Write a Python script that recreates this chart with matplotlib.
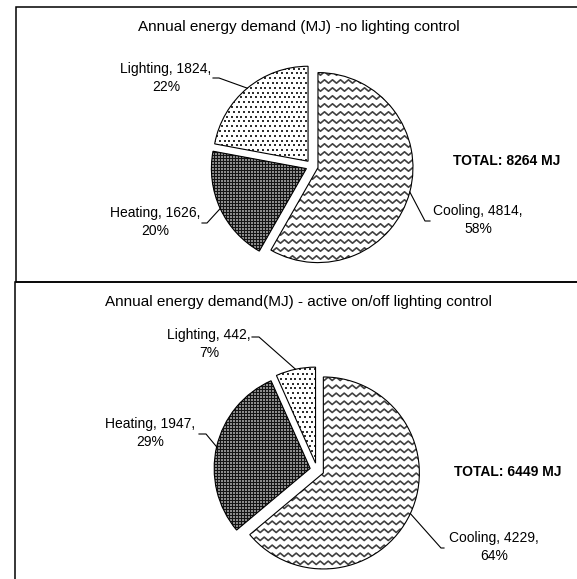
import numpy as np
import matplotlib.pyplot as plt
from matplotlib.patches import Rectangle, Wedge
from matplotlib.collections import LineCollection

plt.rcParams["font.family"] = ["Liberation Sans", "DejaVu Sans"]

# data
categories = ["Cooling", "Heating", "Lighting"]
demand_no_control = [4814, 1626, 1824]
demand_on_off = [4229, 1947, 442]
titles = ["Annual energy demand (MJ) -no lighting control",
          "Annual energy demand(MJ) - active on/off lighting control"]
totals = ["TOTAL: 8264 MJ", "TOTAL: 6449 MJ"]

# layout, in figure pixels (origin top-left)
W, H = 577, 579
panels = [
    dict(top=0, bottom=282, cx=312, cy=166, R=95, explode=0.065,
         title=(299, 27), total=(507, 161),
         text=[(478, 220), (155, 222), (166, 78)],
         leader_end=[(430, 221), (202, 223), (213, 78)],
         elbow=[(425, 221), (207, 223), (219, 78)]),
    dict(top=282, bottom=579, cx=317, cy=470, R=96, explode=0.073,
         title=(298, 302), total=(508, 472),
         text=[(494, 547), (150, 433), (209, 344)],
         leader_end=[(444, 548), (199, 434), (252, 337)],
         elbow=[(441, 548), (206, 434), (259, 337)]),
]


def to_data(p, x, y):
    return (x - p["cx"]) / p["R"], (p["cy"] - y) / p["R"]


def zigzag(ax, wedge, R):
    # wavy line texture (cooling)
    step, period, amp = 8 / R, 8 / R, 1.7 / R
    xs = np.arange(-1.3, 1.3, period / 2)
    segs = []
    for y0 in np.arange(-1.3, 1.3, step):
        ys = y0 + amp * np.where(np.arange(len(xs)) % 2 == 0, 1, -1)
        segs.append(np.column_stack([xs, ys]))
    lc = LineCollection(segs, colors="#404040", linewidths=1.2, zorder=2)
    lc.set_clip_path(wedge)
    ax.add_collection(lc)


def dots(ax, wedge, R, pitch, color, size, stagger):
    g = np.arange(-1.3, 1.3, pitch / R)
    gx, gy = np.meshgrid(g, g)
    if stagger:
        gx[1::2] += pitch / R / 2
    sc = ax.scatter(gx.ravel(), gy.ravel(), s=size, c=color, marker="s",
                    linewidths=0, zorder=2)
    sc.set_clip_path(wedge)


fig = plt.figure(figsize=(W / 100, H / 100), dpi=100)

for p, values, title, total in zip(panels, [demand_no_control, demand_on_off], titles, totals):
    h = p["bottom"] - p["top"]
    ax = fig.add_axes([0, 1 - p["bottom"] / H, 1, h / H])
    wedges, _ = ax.pie(values, startangle=90, counterclock=False,
                       explode=[p["explode"]] * len(values),
                       colors=["white", "#141414", "white"],
                       wedgeprops=dict(edgecolor="none"))
    ax.set_xlim(-p["cx"] / p["R"], (W - p["cx"]) / p["R"])
    ax.set_ylim((p["cy"] - p["bottom"]) / p["R"], (p["cy"] - p["top"]) / p["R"])
    ax.axis("off")

    zigzag(ax, wedges[0], p["R"])
    dots(ax, wedges[1], p["R"], 3.0, "#8c8c8c", 0.85, False)
    dots(ax, wedges[2], p["R"], 4.8, "#303030", 1.2, True)

    total_v = sum(values)
    for i, (w, cat, v) in enumerate(zip(wedges, categories, values)):
        ax.add_patch(Wedge(w.center, w.r, w.theta1, w.theta2, facecolor="none",
                           edgecolor="black", linewidth=0.8, zorder=3))
        mid = np.deg2rad((w.theta1 + w.theta2) / 2)
        ax_x = w.center[0] + w.r * np.cos(mid)
        ax_y = w.center[1] + w.r * np.sin(mid)
        ex, ey = to_data(p, *p["elbow"][i])
        lx, ly = to_data(p, *p["leader_end"][i])
        ax.plot([ax_x, ex, lx], [ax_y, ey, ly], color="black", linewidth=0.8, zorder=3)
        tx, ty = to_data(p, *p["text"][i])
        pct = round(100 * v / total_v)
        ax.text(tx, ty, f"{cat}, {v},\n{pct}%", ha="center", va="center",
                fontsize=10, linespacing=1.3)

    ax.text(*to_data(p, *p["title"]), title, ha="center", va="center", fontsize=11)
    ax.text(*to_data(p, *p["total"]), total, ha="center", va="center",
            fontsize=10, fontweight="bold")

# panel borders
fig.add_artist(Rectangle((16 / W, 1 - 282 / H), (W + 10 - 16) / W, (282 - 7) / H,
                         transform=fig.transFigure, fill=False,
                         edgecolor="black", linewidth=1.1))
fig.add_artist(Rectangle((15 / W, -10 / H), (W + 10 - 15) / W, (579 + 10 - 282) / H,
                         transform=fig.transFigure, fill=False,
                         edgecolor="black", linewidth=1.1))

fig.savefig("out.png", dpi=100, facecolor="white")
